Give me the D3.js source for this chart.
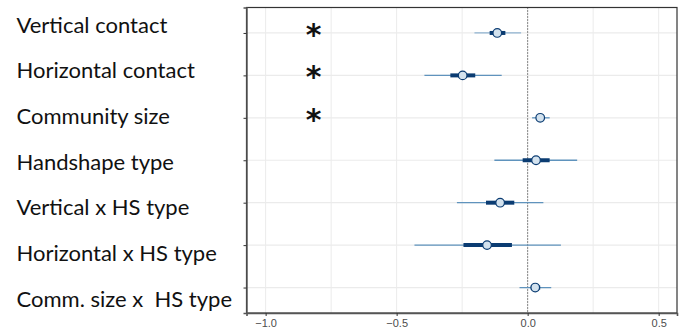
<!DOCTYPE html>
<html>
<head>
<meta charset="utf-8">
<script src="https://cdn.jsdelivr.net/npm/d3@7"></script>
<style>
  body { margin: 0; background: #fff; }
  svg { display: block; }
</style>
</head>
<body>
<svg id="coef_svg" width="679" height="329"></svg>
<script>
// predictors, top to bottom
const predictors = ["Vertical contact", "Horizontal contact", "Community size", "Handshape type",
    "Vertical x HS type", "Horizontal x HS type", "Comm. size x  HS type"]
// posterior medians and intervals
const medians = [-0.116, -0.248, 0.048, 0.032, -0.105, -0.155, 0.029]
const inner_lo = [-0.145, -0.295, 0.035, -0.019, -0.159, -0.245, 0.012]
const inner_hi = [-0.085, -0.200, 0.062, 0.084, -0.051, -0.060, 0.048]
const outer_lo = [-0.203, -0.394, 0.017, -0.127, -0.270, -0.432, -0.031]
const outer_hi = [-0.025, -0.099, 0.084, 0.189, 0.060, 0.127, 0.090]
const significant = [true, true, true, false, false, false, false]
const x_ticks = [-1.0, -0.5, 0.0, 0.5]
const x_minor = [-0.75, -0.25, 0.25]

const data = predictors.map((p, i) => ({
    name: p, med: medians[i], ilo: inner_lo[i], ihi: inner_hi[i],
    olo: outer_lo[i], ohi: outer_hi[i], sig: significant[i]
}))

/**
 * Panel box
 */
const panel = { left: 246.5, right: 677, top: 7.5, bottom: 313 }

let svg = d3.select("#coef_svg")

const xScale = d3.scaleLinear()
    .domain([-1.073, 0.570])
    .range([panel.left, panel.right])

const yScale = d3.scalePoint()
    .domain(predictors)
    .range([panel.top, panel.bottom])
    .padding(0.6)

// labels sit on their own spacing, like in the source slide
const labelScale = d3.scalePoint()
    .domain(predictors)
    .range([32.7, 306.7])

/**
 * Grid
 */
let g_grid = svg.append("g")

g_grid.selectAll(".vgrid")
    .data(x_ticks.concat(x_minor))
    .enter()
    .append("line")
    .attr("x1", d => xScale(d)).attr("x2", d => xScale(d))
    .attr("y1", panel.top).attr("y2", panel.bottom)
    .attr("stroke", "#ebebeb")
    .attr("stroke-width", 1)

g_grid.selectAll(".hgrid")
    .data(predictors)
    .enter()
    .append("line")
    .attr("x1", panel.left).attr("x2", panel.right)
    .attr("y1", d => yScale(d)).attr("y2", d => yScale(d))
    .attr("stroke", "#ebebeb")
    .attr("stroke-width", 1.2)

// zero line
svg.append("line")
    .attr("x1", xScale(0)).attr("x2", xScale(0))
    .attr("y1", panel.top).attr("y2", panel.bottom)
    .attr("stroke", "#222")
    .attr("stroke-width", 1)
    .attr("stroke-dasharray", "1,2")

/**
 * Intervals and points
 */
let g_marks = svg.append("g")

g_marks.selectAll(".outer")
    .data(data)
    .enter()
    .append("line")
    .attr("x1", d => xScale(d.olo)).attr("x2", d => xScale(d.ohi))
    .attr("y1", d => yScale(d.name)).attr("y2", d => yScale(d.name))
    .attr("stroke", (d, i) => i === 0 ? "#8fb3d1" : "#5f93bd")
    .attr("stroke-width", 1.3)

g_marks.selectAll(".inner")
    .data(data)
    .enter()
    .append("line")
    .attr("x1", d => xScale(d.ilo)).attr("x2", d => xScale(d.ihi))
    .attr("y1", d => yScale(d.name)).attr("y2", d => yScale(d.name))
    .attr("stroke", "#0b3c72")
    .attr("stroke-width", 4)

g_marks.selectAll(".pt")
    .data(data)
    .enter()
    .append("circle")
    .attr("cx", d => xScale(d.med))
    .attr("cy", d => yScale(d.name))
    .attr("r", 4.3)
    .attr("fill", "#d3e2ee")
    .attr("stroke", "#0b3c72")
    .attr("stroke-width", 1.2)

/**
 * Panel border and axes
 */
svg.append("rect")
    .attr("x", panel.left).attr("y", panel.top)
    .attr("width", panel.right - panel.left)
    .attr("height", panel.bottom - panel.top)
    .attr("fill", "none")
    .attr("stroke", "#333")
    .attr("stroke-width", 1.2)

let x_axis = d3.axisBottom(xScale)
    .tickValues(x_ticks)
    .tickSize(3)
    .tickPadding(3)
    .tickFormat(d => d3.format(".1f")(d).replace("-", "\u2212"))

let g_x_axis = svg.append("g")
    .attr("transform", "translate(0," + panel.bottom + ")")
    .call(x_axis)
g_x_axis.select(".domain").attr("stroke", "#555").attr("stroke-width", 1.6)
g_x_axis.selectAll(".tick line").attr("stroke", "#333")
g_x_axis.selectAll(".tick text")
    .attr("fill", "#4d4d4d")
    .style("font-family", "Liberation Sans, Arial, sans-serif")
    .style("font-size", "11px")

let y_axis = d3.axisLeft(yScale)
    .tickSize(3)
    .tickFormat("")

let g_y_axis = svg.append("g")
    .attr("transform", "translate(" + panel.left + ",0)")
    .call(y_axis)
g_y_axis.select(".domain").attr("stroke", "#555").attr("stroke-width", 1.4)
g_y_axis.selectAll(".tick line").attr("stroke", "#333")

/**
 * Row labels
 */
svg.selectAll(".row_label")
    .data(predictors)
    .enter()
    .append("text")
    .attr("class", "row_label")
    .attr("x", 16.5)
    .attr("y", d => labelScale(d))
    .attr("fill", "#111")
    .style("font-family", "Lato, sans-serif")
    .style("font-size", "22px")
    .style("white-space", "pre")
    .text(d => d)

/**
 * Significance stars
 */
svg.selectAll(".star")
    .data(data.filter(d => d.sig))
    .enter()
    .append("text")
    .attr("class", "star")
    .attr("x", 313.5)
    .attr("y", d => yScale(d.name) + 12)
    .attr("text-anchor", "middle")
    .attr("fill", "#111")
    .style("font-family", "DejaVu Sans, sans-serif")
    .style("font-weight", "bold")
    .style("font-size", "30px")
    .text("*")
</script>
</body>
</html>
